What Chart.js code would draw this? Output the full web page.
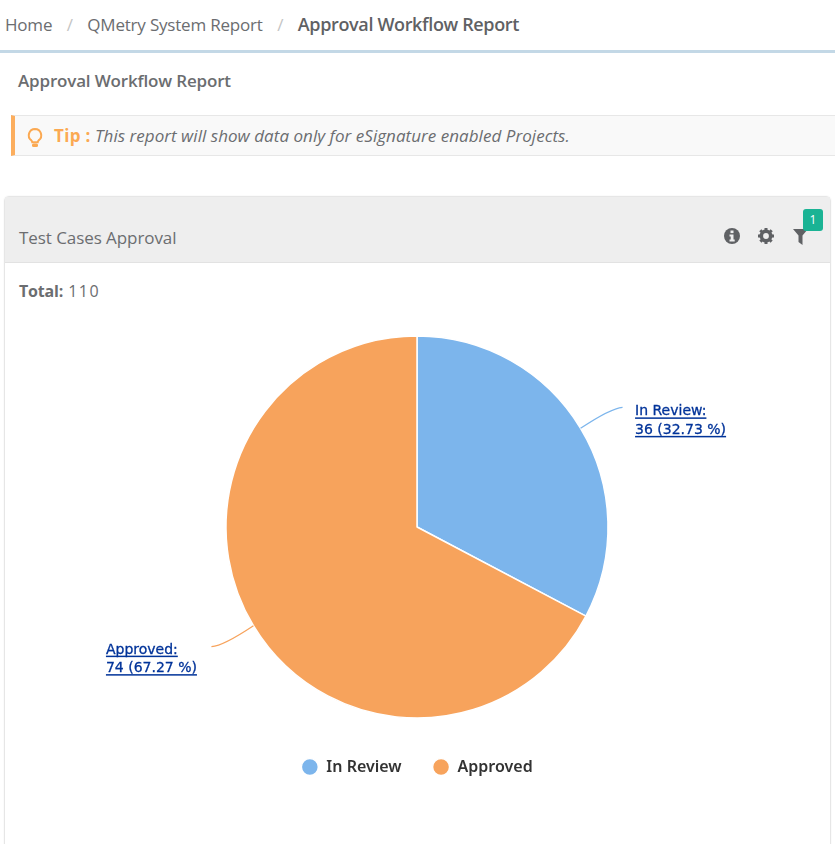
<!DOCTYPE html>
<html lang="en">
<head>
    <meta charset="UTF-8">
    <title>Approval Workflow Report</title>
    <script src="https://cdn.jsdelivr.net/npm/chart.js"></script>
    <style>
        html, body { margin: 0; padding: 0; background: #fff; overflow: hidden; }
        body { width: 835px; height: 844px; position: relative; font-family: "Open Sans", sans-serif; color: #6b6d70; }
        .abs { position: absolute; white-space: nowrap; }
        .crumbs { left: 5px; top: 12px; font-size: 17px; line-height: 24px; letter-spacing: -0.2px; }
        .crumbs i { font-style: normal; color: #c4c4c4; margin: 0 14.500px; }
        .crumbs b { font-weight: 600; font-size: 18px; color: #5f6164; letter-spacing: -0.35px; }
        .rule { left: 0; top: 50px; width: 835px; height: 3px; background: #c3d8e6; }
        .title { left: 18px; top: 69px; font-size: 17px; line-height: 24px; font-weight: 600; letter-spacing: -0.17px; }
        .tip { left: 11px; top: 115px; width: 820px; height: 39px; background: #f9f9f9; border: 1px solid #e7e7e7; border-left: 4px solid #fcae5e; border-right: 0; }
        .tip span { position: absolute; left: 39px; top: 8px; font-size: 17px; line-height: 24px; font-style: italic; letter-spacing: 0.04px; white-space: nowrap; }
        .tip b { font-style: normal; font-weight: 700; color: #fba952; letter-spacing: 0.3px; }
        .tip svg { position: absolute; left: 11px; top: 11px; }
        .panel { left: 4px; top: 196px; width: 825px; height: 660px; border: 1px solid #e6e6e6; border-radius: 5px 5px 0 0; box-shadow: 0 0 2px #eee; }
        .panel-head { left: 5px; top: 197px; width: 825px; height: 65px; background: #eeeeee; border-bottom: 1px solid #e2e2e2; }
        .panel-title { left: 19px; top: 226px; font-size: 17px; line-height: 24px; letter-spacing: -0.07px; font-weight: 500; }
        .total { left: 19px; top: 280px; font-size: 16px; line-height: 22px; }
        .total b { font-weight: 700; letter-spacing: -0.2px; }
        .total span { letter-spacing: 1.500px; margin-left: 1px; }
        .badge { left: 803px; top: 209px; width: 20px; height: 22px; background: #1ab394; border-radius: 3px; color: #fff; font-size: 12px; line-height: 22px; text-align: center; }
        #chartBox { position: absolute; left: 5px; top: 310px; width: 824px; height: 475px; }
    </style>
</head>
<body>
    <div class="abs crumbs">Home<i>/</i>QMetry System Report<i>/</i><b>Approval Workflow Report</b></div>
    <div class="abs rule"></div>
    <div class="abs title">Approval Workflow Report</div>

    <div class="abs tip">
        <svg width="18" height="22" viewBox="0 0 18 22">
            <path d="M9 2a6.3 6.3 0 0 0-3.6 11.4c.6.5.9 1.100.9 1.800h5.400c0-.7.3-1.300.9-1.800A6.300 6.300 0 0 0 9 2z" fill="none" stroke="#fba952" stroke-width="2"/>
            <rect x="6" y="16.500" width="6" height="3.500" rx="1.500" fill="#fba952"/>
        </svg>
        <span><b>Tip :</b> This report will show data only for eSignature enabled Projects.</span>
    </div>

    <div class="abs panel"></div>
    <div class="abs panel-head"></div>
    <div class="abs panel-title">Test Cases Approval</div>

    <!-- header icons -->
    <svg class="abs" style="left:724px;top:228px" width="16" height="16" viewBox="0 0 16 16">
        <circle cx="8" cy="8" r="8" fill="#5f6164"/>
        <rect x="6.500" y="2.500" width="3" height="2.600" fill="#eee"/>
        <path d="M5.500 6.500h4v5h1.200v2H5.500v-2h1.200v-3H5.500z" fill="#eee"/>
    </svg>
    <svg class="abs" style="left:758px;top:228px" width="16" height="16" viewBox="0 0 16 16">
        <circle cx="8" cy="8" r="4.700" fill="none" stroke="#5f6164" stroke-width="3.600"/>
        <path d="M8 0v16M0 8h16M2.300 2.300l11.400 11.400M13.700 2.300L2.300 13.700" stroke="#5f6164" stroke-width="3"  stroke-dasharray="2.700 10.600 2.700"/>
    </svg>
    <svg class="abs" style="left:793px;top:229px" width="15" height="16" viewBox="0 0 15 16">
        <path d="M0 0h15L9.500 6.500V16L5.500 13V6.500z" fill="#5f6164"/>
    </svg>
    <div class="abs badge">1</div>

    <div class="abs total"><b>Total:</b> <span>110</span></div>

    <div id="chartBox"><canvas id="approvalChart"></canvas></div>

    <script>
        const categories = ['In Review', 'Approved'];
        const counts = [36, 74];
        const percents = ['32.73', '67.27'];
        const sliceColors = ['#7cb5ec', '#f7a35c'];
        const linkColor = '#003399';

        // Callout with a curved connector and an underlined link-style label per slice
        const calloutPlugin = {
            id: 'callouts',
            afterDatasetsDraw(chart) {
                const c = chart.ctx;
                const arcs = chart.getDatasetMeta(0).data;
                arcs.forEach((arc, i) => {
                    const mid = (arc.startAngle + arc.endAngle) / 2;
                    const x0 = arc.x + Math.cos(mid) * arc.outerRadius;
                    const y0 = arc.y + Math.sin(mid) * arc.outerRadius;
                    const right = Math.cos(mid) >= 0;
                    const dir = right ? 1 : -1;
                    const vert = Math.sin(mid) >= 0 ? 1 : -1;
                    const x1 = x0 + dir * 42;
                    const y1 = y0 + vert * 21;

                    c.save();
                    c.strokeStyle = sliceColors[i];
                    c.lineWidth = 1.2;
                    c.beginPath();
                    c.moveTo(x0, y0);
                    c.quadraticCurveTo(x0 + dir * 30, y1 - vert * 1, x1, y1);
                    c.stroke();

                    const lines = [categories[i] + ':', counts[i] + ' (' + percents[i] + ' %)'];
                    c.font = '14px "DejaVu Sans"';
                    c.fillStyle = linkColor;
                    c.strokeStyle = linkColor;
                    c.lineWidth = 0.3;
                    c.textBaseline = 'alphabetic';
                    const widths = lines.map(l => c.measureText(l).width);
                    const left = right ? x1 + 12.5 : x1 - 105.5;
                    lines.forEach((line, n) => {
                        const by = y1 + (right ? 8 : 7) + n * 18.5;
                        c.fillText(line, left, by);
                        c.strokeText(line, left, by);
                        c.fillRect(left, by + 2, widths[n], 1.5);
                    });
                    c.restore();
                });
            }
        };

        new Chart(document.getElementById('approvalChart'), {
            type: 'pie',
            data: {
                labels: categories,
                datasets: [{
                    data: counts,
                    backgroundColor: sliceColors,
                    borderColor: '#ffffff',
                    borderWidth: 1.5,
                    radius: 191
                }]
            },
            options: {
                responsive: true,
                maintainAspectRatio: false,
                animation: false,
                layout: { padding: { top: 16 } },
                plugins: {
                    tooltip: { enabled: false },
                    legend: {
                        position: 'bottom',
                        labels: {
                            usePointStyle: true,
                            pointStyle: 'circle',
                            pointStyleWidth: 17,
                            boxHeight: 12,
                            padding: 31,
                            color: '#333333',
                            font: { family: '"Noto Sans"', size: 16, weight: '600' }
                        }
                    }
                }
            },
            plugins: [calloutPlugin]
        });
    </script>
</body>
</html>
